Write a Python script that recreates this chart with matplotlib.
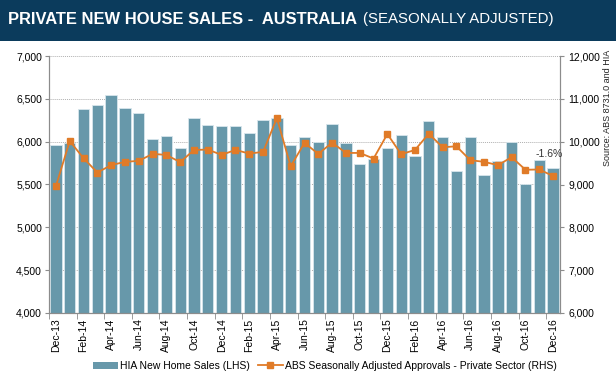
import matplotlib
matplotlib.use('Agg')
import matplotlib.pyplot as plt
from matplotlib.patches import Rectangle
from matplotlib.lines import Line2D
from matplotlib.patches import Patch

plt.rcParams['font.family'] = ['Liberation Sans', 'DejaVu Sans']

# months Dec-13 .. Dec-16
months = ['Dec-13', 'Jan-14', 'Feb-14', 'Mar-14', 'Apr-14', 'May-14', 'Jun-14',
          'Jul-14', 'Aug-14', 'Sep-14', 'Oct-14', 'Nov-14', 'Dec-14', 'Jan-15',
          'Feb-15', 'Mar-15', 'Apr-15', 'May-15', 'Jun-15', 'Jul-15', 'Aug-15',
          'Sep-15', 'Oct-15', 'Nov-15', 'Dec-15', 'Jan-16', 'Feb-16', 'Mar-16',
          'Apr-16', 'May-16', 'Jun-16', 'Jul-16', 'Aug-16', 'Sep-16', 'Oct-16',
          'Nov-16', 'Dec-16']

# HIA new home sales (LHS)
hia_sales = [5960, 5980, 6380, 6425, 6540, 6398, 6332, 6035, 6062, 5923,
             6278, 6189, 6178, 6178, 6100, 6255, 6282, 5961, 6058, 5995,
             6205, 5985, 5737, 5795, 5927, 6073, 5838, 6243, 6054, 5653,
             6054, 5614, 5772, 6000, 5506, 5788, 5695]

# ABS seasonally adjusted approvals - private sector (RHS)
abs_approvals = [8960, 10015, 9614, 9280, 9452, 9529, 9552, 9714, 9691, 9521,
                 9807, 9815, 9691, 9807, 9722, 9761, 10550, 9425, 9972, 9714,
                 9977, 9737, 9737, 9606, 10178, 9707, 9807, 10185, 9869, 9892,
                 9568, 9529, 9452, 9637, 9344, 9351, 9197]

bar_color = '#6798aa'
line_color = '#e07b28'
grey = '#8c8c8c'

fig = plt.figure(figsize=(6.16, 3.83), dpi=100)
fig.patch.set_facecolor('white')

# title band
band_h = 41 / 383
fig.patches.append(Rectangle((0, 1 - band_h), 1, band_h, transform=fig.transFigure,
                             facecolor='#0b3b5c', edgecolor='none', zorder=0))
t1 = fig.text(8 / 616, 1 - 19 / 383, 'PRIVATE NEW HOUSE SALES -  AUSTRALIA',
              color='white', fontsize=11.9, fontweight='bold', va='center', ha='left')
fig.canvas.draw()
bb = t1.get_window_extent(fig.canvas.get_renderer())
fig.text((bb.x1 + 6) / 616, 1 - 19 / 383, '(SEASONALLY ADJUSTED)',
         color='white', fontsize=10.8, va='center', ha='left')

ax = fig.add_axes([49 / 616, 1 - 313 / 383, (560 - 49) / 616, (313 - 56) / 383])
x = list(range(len(months)))
ax.bar(x, hia_sales, width=0.82, color=bar_color, edgecolor='#d8e6ec', linewidth=0.6,
       zorder=2)
ax.set_xlim(-0.5, len(months) - 0.5)
ax.set_ylim(4000, 7000)
ax.set_yticks(range(4000, 7001, 500))
ax.set_yticklabels([f'{v:,}' for v in range(4000, 7001, 500)])
ax.yaxis.grid(True, color='#b0b0b0', linestyle=(0, (1, 1)), linewidth=0.7)
ax.set_axisbelow(True)

ax.set_xticks(x[::2])
ax.set_xticklabels(months[::2], rotation=90)
ax.set_xticks([i - 0.5 for i in range(0, len(months) + 1, 2)], minor=True)
ax.tick_params(axis='x', which='major', length=0, labelsize=7.5, pad=4)
ax.tick_params(axis='x', which='minor', length=4, color=grey)
ax.tick_params(axis='y', length=3, color=grey, labelsize=7.5, pad=2)

for side in ['left', 'right', 'bottom']:
    ax.spines[side].set_color(grey)
ax.spines['top'].set_visible(False)

ax2 = ax.twinx()
ax2.plot(x, abs_approvals, color=line_color, linewidth=1.3, marker='s',
         markersize=5, zorder=3)
ax2.set_ylim(6000, 12000)
ax2.set_yticks(range(6000, 12001, 1000))
ax2.set_yticklabels([f'{v:,}' for v in range(6000, 12001, 1000)])
ax2.tick_params(axis='y', length=3, color=grey, labelsize=7.5, pad=3)
for side in ['left', 'right', 'bottom']:
    ax2.spines[side].set_color(grey)
ax2.spines['top'].set_visible(False)

ax2.text(35.7, 9720, '-1.6%', fontsize=7.5, ha='center', va='center', color='#333333')

fig.text(608 / 616, 1 - 50 / 383, 'Source: ABS 8731.0 and HIA', rotation=90,
         fontsize=6.5, ha='center', va='top', color='#222222')

handles = [Patch(facecolor=bar_color, edgecolor='none'),
           Line2D([0], [0], color=line_color, marker='s', markersize=5, linewidth=1.3)]
labels = ['HIA New Home Sales (LHS)',
          'ABS Seasonally Adjusted Approvals - Private Sector (RHS)']
fig.legend(handles, labels, loc='center', bbox_to_anchor=(0.527, 1 - 366 / 383),
           ncol=2, frameon=False, fontsize=7.5, handlelength=2.4, handleheight=0.7,
           columnspacing=0.8, handletextpad=0.2)

fig.savefig('out.png', dpi=100)
